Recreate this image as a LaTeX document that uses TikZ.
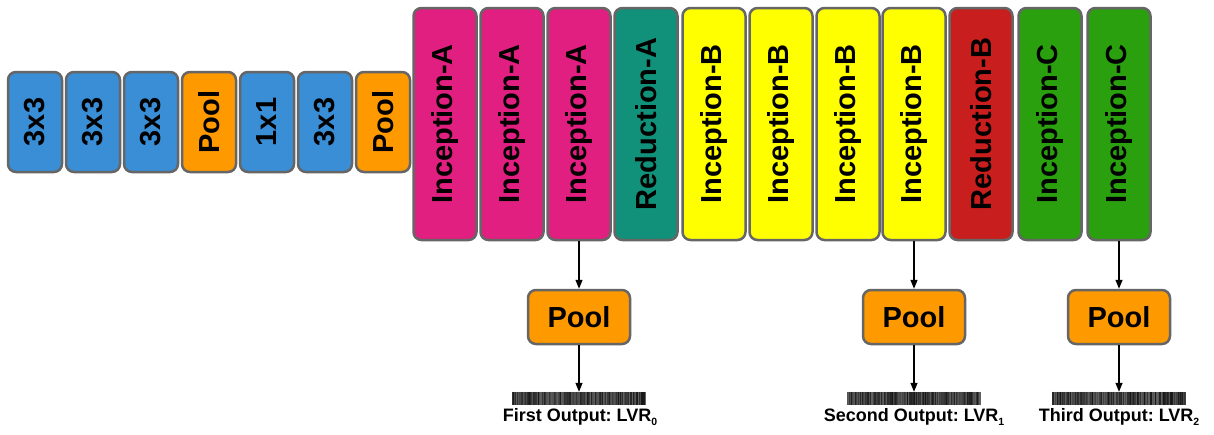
\documentclass[tikz,border=0pt]{standalone}
\usepackage{fontspec}
\setmainfont{Liberation Sans}
\usetikzlibrary{arrows.meta}
\frenchspacing
\definecolor{cblue}{HTML}{3A8ED6}
\definecolor{corange}{HTML}{FF9900}
\definecolor{cmag}{HTML}{E01F80}
\definecolor{cteal}{HTML}{11917A}
\definecolor{cyel}{HTML}{FFFF00}
\definecolor{cred}{HTML}{C81E1E}
\definecolor{cgreen}{HTML}{2AA00E}
\definecolor{cborder}{HTML}{666666}
\newcommand{\lvrsub}[1]{\raisebox{-4pt}{\fontsize{10.5}{12}\selectfont #1}}
\tikzset{
  blk/.style={draw=cborder, line width=2.5pt, rounded corners=8pt, inner sep=0pt,
    font=\fontsize{29}{34}\selectfont\bfseries, text=black},
  smallblk/.style={blk, rotate=90, minimum width=100pt, minimum height=54pt},
  bigblk/.style={blk, rotate=90, minimum width=232pt, minimum height=63pt},
  poolblk/.style={blk, fill=corange, minimum width=102pt, minimum height=54pt},
  barcode/.style={draw=none, fill=black!80, minimum width=134pt, minimum height=13pt, inner sep=0pt},
  outlbl/.style={font=\fontsize{18}{21}\selectfont\bfseries, inner sep=0pt},
  arr/.style={line width=1.3pt, -{Triangle[length=9pt,width=7pt]}}
}
\begin{document}
\begin{tikzpicture}[x=1pt,y=-1pt]
\useasboundingbox (0,0) rectangle (1214,434);
% small stem blocks
\node[smallblk, fill=cblue]   (s1) at (35,122) {3x3};
\node[smallblk, fill=cblue]   (s2) at (93,122) {3x3};
\node[smallblk, fill=cblue]   (s3) at (151,122) {3x3};
\node[smallblk, fill=corange] (s4) at (209,122) {Pool};
\node[smallblk, fill=cblue]   (s5) at (267,122) {1x1};
\node[smallblk, fill=cblue]   (s6) at (325,122) {3x3};
\node[smallblk, fill=corange] (s7) at (383,122) {Pool};
% big blocks
\node[bigblk, fill=cmag]   (b1)  at (445,124)   {Inception-A};
\node[bigblk, fill=cmag]   (b2)  at (512,124)   {Inception-A};
\node[bigblk, fill=cmag]   (b3)  at (579,124)   {Inception-A};
\node[bigblk, fill=cteal]  (b4)  at (646,124)   {Reduction-A};
\node[bigblk, fill=cyel]   (b5)  at (714,124)   {Inception-B};
\node[bigblk, fill=cyel]   (b6)  at (781,124)   {Inception-B};
\node[bigblk, fill=cyel]   (b7)  at (848,124)   {Inception-B};
\node[bigblk, fill=cyel]   (b8)  at (914,124)   {Inception-B};
\node[bigblk, fill=cred]   (b9)  at (981,124)   {Reduction-B};
\node[bigblk, fill=cgreen] (b10) at (1050,124)  {Inception-C};
\node[bigblk, fill=cgreen] (b11) at (1119,124)  {Inception-C};
% pools
\node[poolblk] (p1) at (579,317) {Pool};
\node[poolblk] (p2) at (914,317) {Pool};
\node[poolblk] (p3) at (1119,317) {Pool};
% barcodes
\pgfmathsetseed{11}
\foreach \n/\cx in {c1/579, c2/914, c3/1119}{
  \node[barcode] (\n) at (\cx,398.5) {};
  \foreach \i in {0,...,133}{
    \pgfmathsetmacro{\g}{int(62+30*rnd)}
    \draw[black!\g, line width=1pt] ([xshift=\i pt+0.5pt]\n.north west) -- ([xshift=\i pt+0.5pt]\n.south west);
  }
}
% labels
\node[outlbl] (l1) at (580,417) {First Output: LVR\lvrsub{0}};
\node[outlbl] (l2) at (914,417) {Second Output: LVR\lvrsub{1}};
\node[outlbl] (l3) at (1119,417) {Third Output: LVR\lvrsub{2}};
% arrows
\draw[arr] (b3) -- (p1);
\draw[arr] (b8) -- (p2);
\draw[arr] (b11) -- (p3);
\draw[arr] (p1) -- (c1);
\draw[arr] (p2) -- (c2);
\draw[arr] (p3) -- (c3);
\end{tikzpicture}
\end{document}
